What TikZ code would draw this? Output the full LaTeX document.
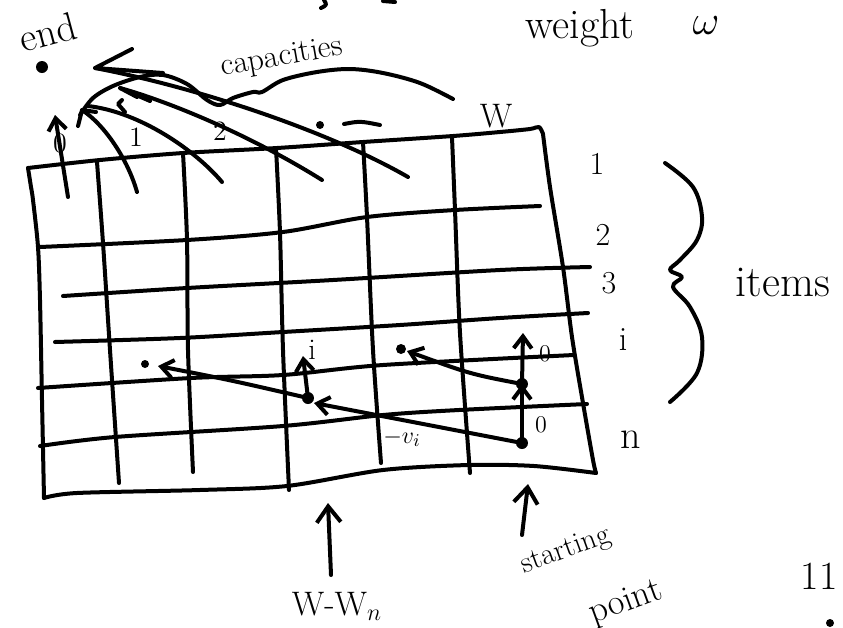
\documentclass[tikz,border=0pt]{standalone}
\usetikzlibrary{arrows.meta}
\begin{document}
\begin{tikzpicture}[x=0.5pt,y=-0.5pt,
  ln/.style={line width=2pt, line cap=round, line join=round},
  arr/.style={ln, -{Straight Barb[length=8pt,width=12pt,line width=2pt]}},
  arrs/.style={ln, -{Straight Barb[length=6pt,width=9pt,line width=2pt]}},
  hand/.style={inner sep=0pt, font=\fontsize{#1}{#1}\selectfont},
  dotp/.style={circle, fill, inner sep=0pt, minimum size=#1},
  dotp/.default=5pt]
\useasboundingbox (0,0) rectangle (843,628);
\clip (0,0) rectangle (843,628);

% ---------- grid frame ----------
\draw[ln] plot[smooth, tension=0.5] coordinates {(28,168) (100,160) (183,153) (277,148) (363,142) (453,136) (500,132) (530,129) (539,127) (543,134)};
\draw[ln] plot[smooth, tension=0.5] coordinates {(543,134) (550,187) (563,267) (572,337) (583,403) (593,460) (596,473)};
\draw[ln] plot[smooth, tension=0.5] coordinates {(596,473) (534,466) (469,465) (383,470) (287,486) (200,490) (77,493) (44,498)};
\draw[ln] plot[smooth, tension=0.5] coordinates {(28,168) (31,187) (33,200) (38,247) (40,300) (42,400) (44,498)};
% horizontal lines
\draw[ln] plot[smooth, tension=0.5] coordinates {(40,247) (187,240) (283,232) (367,217) (455,210) (540,206)};
\draw[ln] plot[smooth, tension=0.5] coordinates {(63,296) (187,288) (333,280) (500,270) (590,267)};
\draw[ln] plot[smooth, tension=0.5] coordinates {(55,342) (180,338) (283,332) (400,325) (500,318) (588,313)};
\draw[ln] plot[smooth, tension=0.5] coordinates {(38,388) (191,378) (283,375) (383,365) (574,355)};
\draw[ln] plot[smooth, tension=0.5] coordinates {(40,446) (115,437) (283,426) (383,415) (459,410) (587,404)};
% vertical lines
\draw[ln] plot[smooth, tension=0.5] coordinates {(97,162) (103,243) (110,350) (119,483)};
\draw[ln] plot[smooth, tension=0.5] coordinates {(183,153) (187,240) (188,350) (193,472)};
\draw[ln] plot[smooth, tension=0.5] coordinates {(276,148) (280,233) (283,350) (289,490)};
\draw[ln] plot[smooth, tension=0.5] coordinates {(363,142) (367,217) (373,350) (381,463)};
\draw[ln] plot[smooth, tension=0.5] coordinates {(452,137) (455,210) (460,333) (470,473)};

% ---------- labels ----------
\node[hand=21] (weight) at (580,28) {weight};
\node[hand=22] (omega) at (706,26) {$\omega$};
\node[hand=20, rotate=15] (endtxt) at (48,32) {end};
\node[hand=16, rotate=10] (cap) at (282,58) {capacities};
\node[hand=17] (Wtop) at (496,116) {W};
\node[hand=16] (r1) at (597,164) {1};
\node[hand=16] (r2) at (603,235) {2};
\node[hand=16] (r3) at (609,283) {3};
\node[hand=17] (ri) at (623,340) {i};
\node[hand=20] (rn) at (631,440) {n};
\node[hand=22] (items) at (783,282) {items};
\node[hand=14] (c0) at (60,143) {0};
\node[hand=14] (c1) at (136,137) {1};
\node[hand=14] (c2) at (220,131) {2};
\node[hand=13] (vi) at (402,438) {$-v_i$};
\node[hand=12] (z1) at (541,425) {0};
\node[hand=12] (z2) at (545,354) {0};
\node[hand=15] (li) at (312,350) {i};
\node[hand=17] (wwn) at (337,606) {W-W$_n$};
\node[hand=15, rotate=20] (start) at (566,551) {starting};
\node[hand=18, rotate=20] (point) at (626,603) {point};
\node[hand=20] (eleven) at (819,576) {11};
\node[dotp=4pt] (bdot) at (830,623) {};

% ---------- brace for items ----------
\draw[ln] plot[smooth, tension=0.6] coordinates {(665,163) (693,187) (702,217) (697,240) (680,260) (670,270) (682,277) (673,287) (690,307) (702,337) (697,373) (670,402)};

% ---------- path through the table ----------
\node[dotp=6pt] (s) at (522,443) {};
\node[dotp=6pt] (m) at (522,384) {};
\node[dotp=6pt] (p) at (308,398) {};
\node[dotp=4pt] (e1) at (145,364) {};
\node[dotp=5pt] (e2) at (401,349) {};
\coordinate (mtop) at (523,333);
\coordinate (ptop) at (303,356);
\coordinate (e1tip) at (158,366);
\coordinate (e2tip) at (407,351);
\coordinate (ptip) at (314,403);
\draw[arrs] (s.center) -- (m.center);
\draw[arrs] (m.center) -- (mtop);
\draw[arrs] (m.center) .. controls (470,374) .. (e2tip);
\draw[arrs] (s.center) -- (ptip);
\draw[arrs] (p.center) -- (ptop);
\draw[arrs] (p.center) .. controls (230,380) .. (e1tip);

% ---------- bottom arrows ----------
\coordinate (wwnbot) at (331,575);
\coordinate (wwntop) at (328,503);
\coordinate (spbot) at (522,535);
\coordinate (sptop) at (528,484);
\draw[arr] (wwnbot) -- (wwntop);
\draw[arr] (spbot) -- (sptop);

% ---------- capacity arrows ----------
\node[dotp=6pt] (enddot) at (42,67) {};
\coordinate (T) at (95,68);
\coordinate (Wstart) at (408,177);
\draw[ln] (Wstart) .. controls (330,132) and (200,88) .. (T);
\draw[ln] (132,49) -- (T) -- (163,73);
\coordinate (a2s) at (322,180);
\coordinate (a2e) at (120,88);
\draw[ln] (a2s) .. controls (250,135) and (170,102) .. (a2e);
\draw[ln] (137,97) -- (a2e) -- (150,101);
\draw[ln] (122,100) -- (118,104) -- (125,112);
\coordinate (a1s) at (222,182);
\coordinate (a1e) at (88,106);
\draw[ln] (a1s) .. controls (195,150) and (140,112) .. (a1e);
\coordinate (a0bs) at (137,192);
\coordinate (a0be) at (82,110);
\draw[ln] (a0bs) .. controls (128,160) and (105,125) .. (a0be);
\draw[ln] (78,126) -- (a0be) -- (96,112);
\coordinate (a0s) at (68,197);
\coordinate (a0e) at (55,115);
\draw[arrs] (a0s) -- (a0e);
% wavy bracket curve
\draw[ln] plot[smooth, tension=0.55] coordinates {(80,115) (93,98) (113,86) (140,77) (163,75) (187,84) (207,100) (220,105) (233,98) (253,92) (262,92) (283,80) (317,72) (350,69) (383,73) (420,83) (453,99)};
% small marks
\fill (320,125) circle (2pt);
\draw[ln] (344,124) .. controls (360,121) .. (380,125);
\draw[ln] (324,0) .. controls (327,5) .. (321,8);
\draw[ln] (383,1) -- (395,2);
\end{tikzpicture}
\end{document}
